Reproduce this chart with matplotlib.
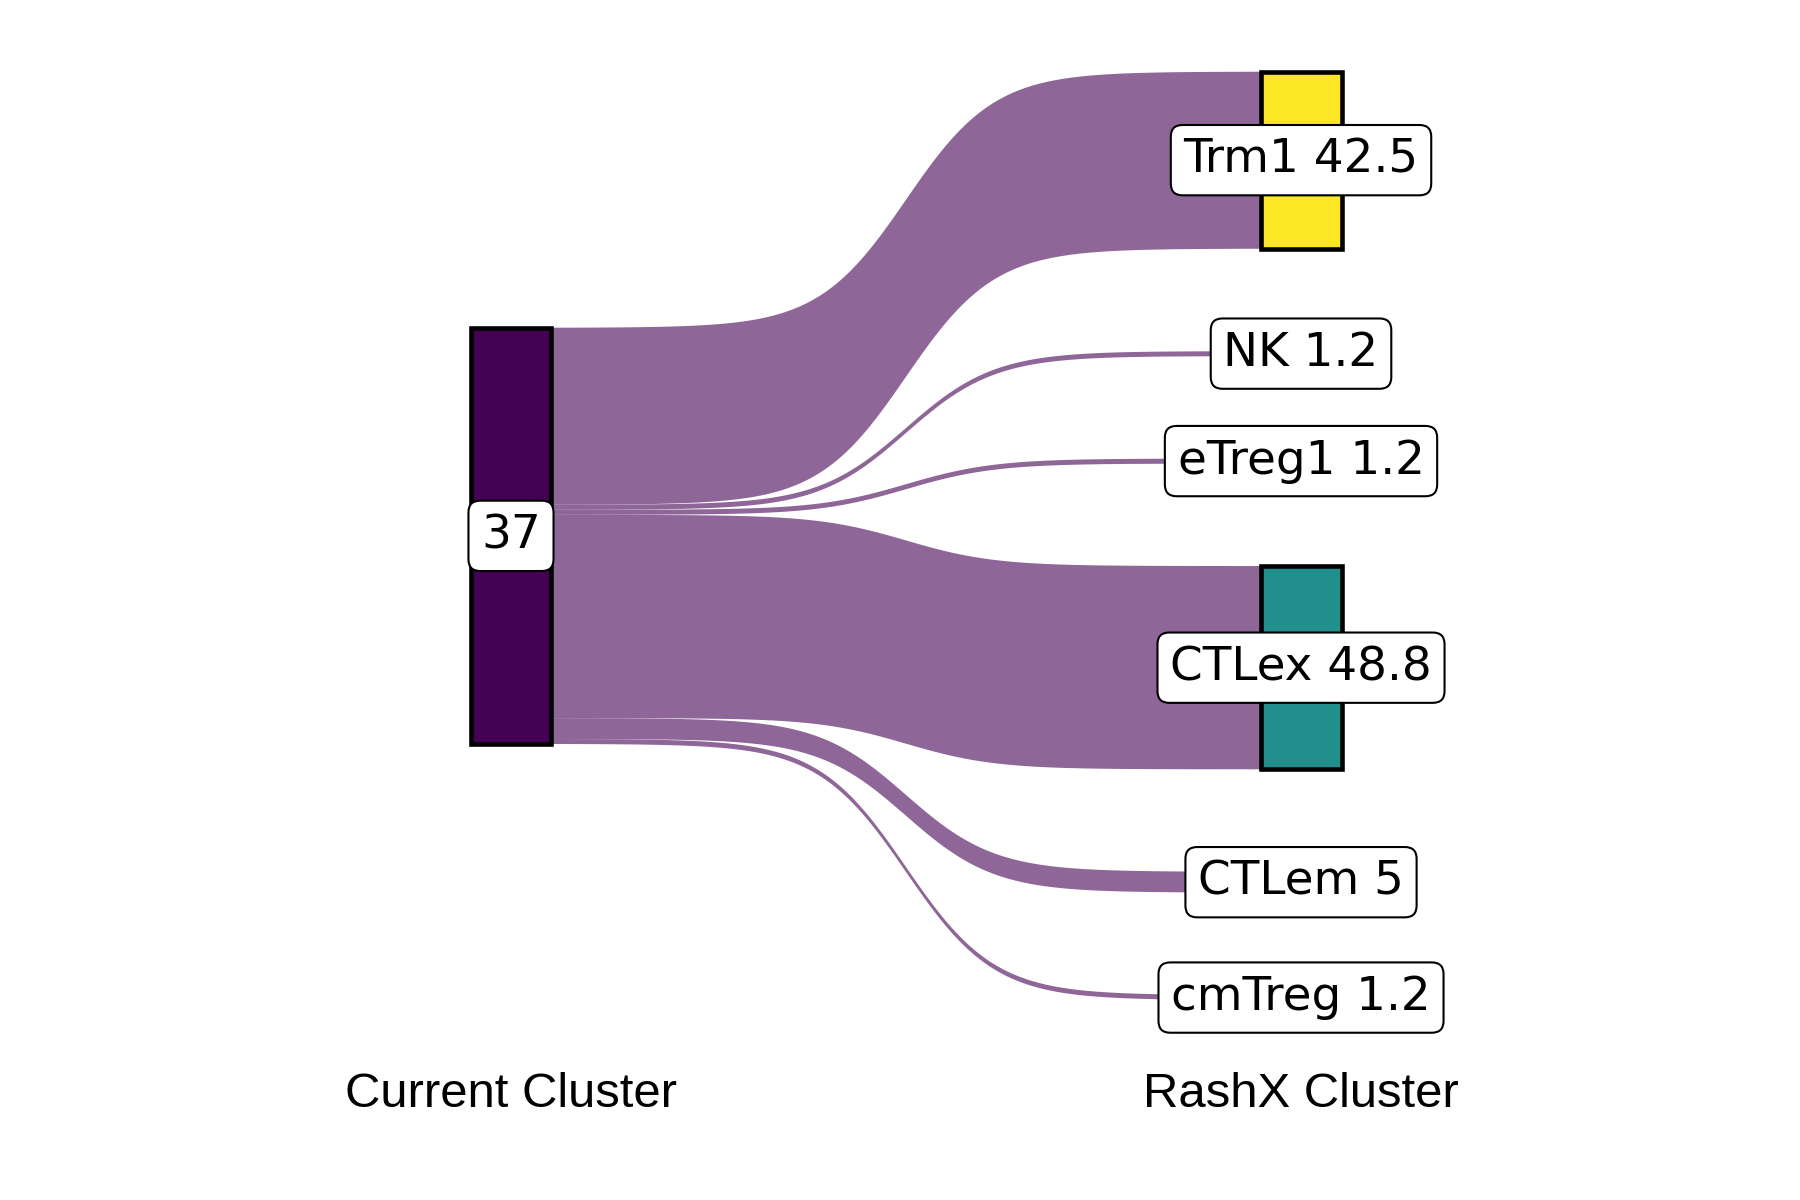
import matplotlib
matplotlib.use('Agg')
import matplotlib.pyplot as plt
from matplotlib.patches import Rectangle
import numpy as np

# datos del grafico
left_label = '37'
right_labels = ['Trm1', 'NK', 'eTreg1', 'CTLex', 'CTLem', 'cmTreg']
right_values = [42.5, 1.2, 1.2, 48.8, 5, 1.2]
axis_labels = ['Current Cluster', 'RashX Cluster']

left_color = '#440154'
right_colors = ['#FDE725', '#FDE725', '#FDE725', '#21908C', '#21908C', '#21908C']
flow_color = '#440154'

gap = 24.6      # espacio entre estratos de la derecha
w = 0.1025      # ancho de los estratos
smooth = 8      # suavizado de la curva sigmoide


def sigmoide(x_from, x_to, y_from, y_to, n=300):
    s = np.linspace(-smooth, smooth, n)
    f = np.exp(s) / (np.exp(s) + 1)
    x = (s + smooth) / (smooth * 2) * (x_to - x_from) + x_from
    return x, y_from + f * (y_to - y_from)


def flujo(ax, l_top, l_bot, r_top, r_bot):
    x0 = 1 + w / 2
    x1 = 2 - w / 2
    xt, yt = sigmoide(x0, x1, l_top, r_top)
    xb, yb = sigmoide(x0, x1, l_bot, r_bot)
    xs = np.concatenate([xt, xb[::-1]])
    ys = np.concatenate([yt, yb[::-1]])
    ax.fill(xs, ys, color=flow_color, alpha=0.6, lw=0, zorder=1)


def etiqueta(ax, x, y, txt):
    ax.text(x, y, txt, ha='center', va='center', fontsize=22.5,
            family='DejaVu Sans', zorder=5,
            bbox=dict(boxstyle='round,pad=0.27,rounding_size=0.25',
                      fc='white', ec='black', lw=1.0))


def main():
    fig = plt.figure(figsize=(12, 8), dpi=150)
    ax = fig.add_axes([0, 0, 1, 1])
    ax.set_xlim(0.3532, 2.6316)
    ax.set_ylim(-48.0, 240.1)
    ax.axis('off')

    total = sum(right_values)
    top = total + gap * (len(right_values) - 1)
    left_top = top / 2 + total / 2

    # flujos
    l_y = left_top
    r_y = top
    r_pos = []
    for v in right_values:
        flujo(ax, l_y, l_y - v, r_y, r_y - v)
        r_pos.append((r_y - v, v))
        l_y -= v
        r_y -= v + gap

    # estratos
    ax.add_patch(Rectangle((1 - w / 2, left_top - total), w, total,
                           fc=left_color, ec='black', lw=2.2, zorder=2))
    etiqueta(ax, 1, left_top - total / 2, left_label)
    for (y0, v), lab, col in zip(r_pos, right_labels, right_colors):
        ax.add_patch(Rectangle((2 - w / 2, y0), w, v, fc=col, ec='black',
                               lw=2.2, zorder=2))
        etiqueta(ax, 2, y0 + v / 2, lab + ' ' + format(v, 'g'))

    for i, lab in enumerate(axis_labels):
        ax.text(i + 1, -25.6, lab, ha='center', va='baseline',
                fontsize=23.5, family='Liberation Sans')

    fig.savefig('out.png', dpi=150)


if __name__ == '__main__':
    main()
